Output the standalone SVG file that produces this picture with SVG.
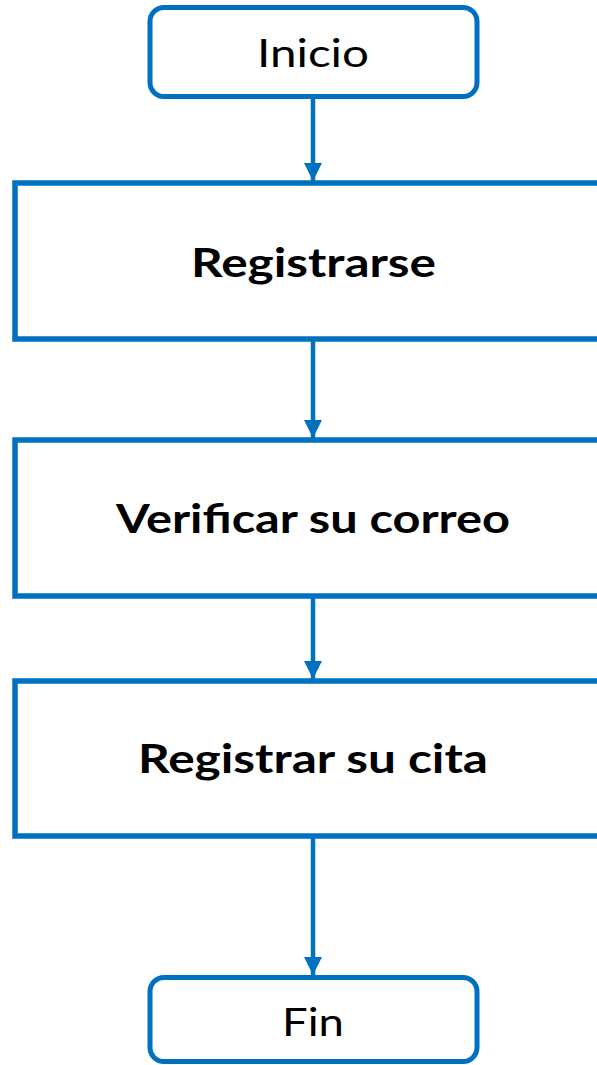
<svg xmlns="http://www.w3.org/2000/svg" width="597" height="1065" viewBox="0 0 597 1065">
<style>
.box{fill:#fff;stroke:#0070c0;stroke-width:5.5}
.term{fill:#fff;stroke:#0070c0;stroke-width:5}
.t{font-family:Lato,"Noto Sans",sans-serif;font-size:39px;fill:#000;text-anchor:middle}
.b{font-weight:bold;font-size:41px}
.c{stroke:#0070c0;stroke-width:4.5;fill:none}
</style>
<defs>
<marker id="ah" markerUnits="userSpaceOnUse" markerWidth="18" markerHeight="18" refX="18" refY="9" orient="auto" viewBox="0 0 18 18">
<path d="M0,0 L18,9 L0,18 Z" fill="#0070c0"/>
</marker>
</defs>
<g id="connectors">
<line class="c" x1="313" y1="99" x2="313" y2="181" marker-end="url(#ah)"/>
<line class="c" x1="313" y1="341" x2="313" y2="438" marker-end="url(#ah)"/>
<line class="c" x1="313" y1="598" x2="313" y2="679" marker-end="url(#ah)"/>
<line class="c" x1="313" y1="838" x2="313" y2="975" marker-end="url(#ah)"/>
</g>
<g id="inicio">
<rect class="term" x="150" y="7.5" width="327" height="89" rx="14"/>
<text class="t" x="313" y="67" textLength="112" lengthAdjust="spacingAndGlyphs">Inicio</text>
</g>
<g id="registrarse">
<rect class="box" x="15" y="183" width="600" height="156"/>
<text class="t b" x="313.5" y="277" textLength="245" lengthAdjust="spacingAndGlyphs">Registrarse</text>
</g>
<g id="verificar">
<rect class="box" x="15" y="440" width="600" height="156"/>
<text class="t b" x="313" y="533" textLength="394" lengthAdjust="spacingAndGlyphs">Verificar su correo</text>
</g>
<g id="registrar-cita">
<rect class="box" x="15" y="681" width="600" height="155"/>
<text class="t b" x="313" y="773" textLength="350" lengthAdjust="spacingAndGlyphs">Registrar su cita</text>
</g>
<g id="fin">
<rect class="term" x="150" y="977.5" width="327" height="84" rx="14"/>
<text class="t" x="313" y="1036" textLength="62" lengthAdjust="spacingAndGlyphs">Fin</text>
</g>
</svg>
